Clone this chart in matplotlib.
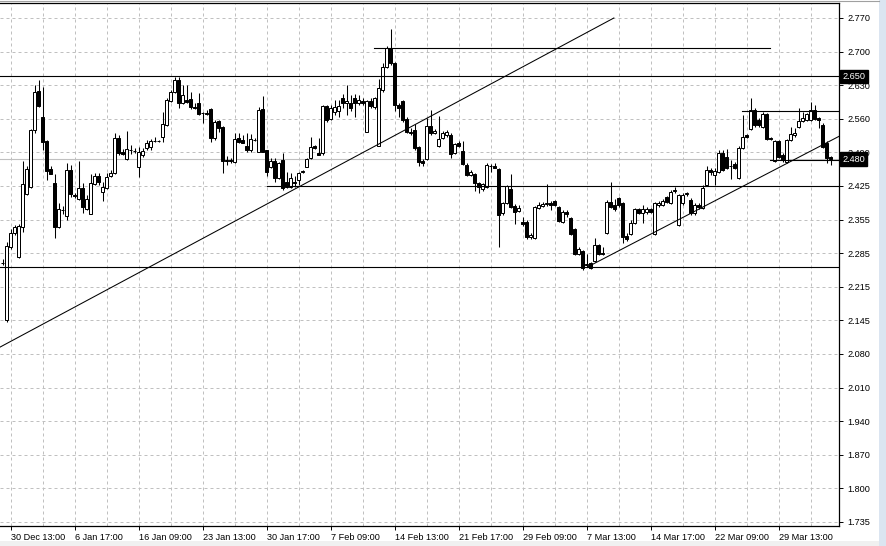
import matplotlib
matplotlib.use("Agg")
import matplotlib.pyplot as plt
from matplotlib.patches import Rectangle
from matplotlib.transforms import blended_transform_factory
import numpy as np

# OHLC of each bar (oldest first)
opens = [
    2.267, 2.150, 2.300, 2.328, 2.279, 2.341, 2.409, 2.423, 2.540, 2.620,
    2.567, 2.517, 2.460, 2.431, 2.341, 2.376, 2.363, 2.458, 2.406, 2.398,
    2.421, 2.378, 2.367, 2.429, 2.446, 2.413, 2.421, 2.446, 2.452, 2.524,
    2.495, 2.480, 2.499, 2.497, 2.464, 2.489, 2.503, 2.505, 2.517, 2.517,
    2.526, 2.550, 2.600, 2.618, 2.643, 2.595, 2.602, 2.604, 2.587, 2.595,
    2.575, 2.575, 2.583, 2.524, 2.558, 2.546, 2.478, 2.478, 2.474, 2.524,
    2.519, 2.507, 2.499, 2.519, 2.495, 2.583, 2.499, 2.464, 2.476, 2.441,
    2.478, 2.433, 2.423, 2.433, 2.437, 2.454, 2.464, 2.482, 2.507, 2.493,
    2.493, 2.589, 2.563, 2.577, 2.579, 2.606, 2.595, 2.595, 2.606, 2.595,
    2.600, 2.536, 2.600, 2.587, 2.507, 2.622, 2.669, 2.708, 2.678, 2.591,
    2.600, 2.563, 2.534, 2.540, 2.505, 2.476, 2.480, 2.548, 2.534, 2.507,
    2.524, 2.530, 2.530, 2.493, 2.513, 2.497, 2.468, 2.448, 2.450, 2.431,
    2.419, 2.423, 2.466, 2.466, 2.460, 2.370, 2.390, 2.419, 2.384, 2.374,
    2.351, 2.351, 2.320, 2.318, 2.380, 2.384, 2.388, 2.390, 2.394, 2.382,
    2.351, 2.372, 2.359, 2.337, 2.285, 2.291, 2.263, 2.267, 2.271, 2.304,
    2.287, 2.328, 2.392, 2.386, 2.400, 2.390, 2.322, 2.326, 2.349, 2.378,
    2.370, 2.372, 2.378, 2.326, 2.386, 2.386, 2.402, 2.390, 2.415, 2.345,
    2.390, 2.409, 2.396, 2.370, 2.386, 2.380, 2.427, 2.458, 2.448, 2.454,
    2.493, 2.485, 2.466, 2.470, 2.441, 2.503, 2.530, 2.542, 2.581, 2.561,
    2.546, 2.573, 2.524, 2.476, 2.517, 2.489, 2.474, 2.519, 2.530, 2.546,
    2.558, 2.561, 2.561, 2.581, 2.565, 2.550, 2.513, 2.485,
]
highs = [
    2.275, 2.310, 2.337, 2.345, 2.347, 2.476, 2.466, 2.542, 2.632, 2.643,
    2.628, 2.519, 2.466, 2.450, 2.390, 2.384, 2.472, 2.468, 2.411, 2.476,
    2.431, 2.406, 2.450, 2.452, 2.452, 2.433, 2.452, 2.458, 2.534, 2.530,
    2.501, 2.538, 2.509, 2.503, 2.505, 2.503, 2.519, 2.522, 2.526, 2.519,
    2.577, 2.606, 2.622, 2.649, 2.649, 2.632, 2.632, 2.618, 2.595, 2.616,
    2.577, 2.581, 2.585, 2.561, 2.561, 2.548, 2.487, 2.482, 2.534, 2.534,
    2.530, 2.534, 2.532, 2.524, 2.587, 2.610, 2.499, 2.482, 2.482, 2.474,
    2.493, 2.454, 2.452, 2.446, 2.454, 2.458, 2.482, 2.526, 2.509, 2.524,
    2.591, 2.591, 2.591, 2.602, 2.602, 2.614, 2.632, 2.612, 2.614, 2.612,
    2.606, 2.602, 2.606, 2.608, 2.645, 2.678, 2.713, 2.747, 2.680, 2.595,
    2.602, 2.567, 2.544, 2.552, 2.507, 2.480, 2.565, 2.581, 2.542, 2.569,
    2.538, 2.540, 2.534, 2.513, 2.517, 2.517, 2.472, 2.458, 2.452, 2.433,
    2.431, 2.472, 2.470, 2.472, 2.462, 2.392, 2.427, 2.450, 2.388, 2.386,
    2.361, 2.355, 2.328, 2.384, 2.392, 2.392, 2.429, 2.394, 2.396, 2.384,
    2.376, 2.376, 2.361, 2.339, 2.300, 2.294, 2.285, 2.269, 2.318, 2.306,
    2.300, 2.396, 2.433, 2.398, 2.402, 2.392, 2.328, 2.355, 2.380, 2.380,
    2.386, 2.382, 2.380, 2.392, 2.394, 2.398, 2.404, 2.417, 2.423, 2.409,
    2.411, 2.413, 2.400, 2.390, 2.390, 2.427, 2.466, 2.462, 2.462, 2.499,
    2.499, 2.501, 2.478, 2.474, 2.507, 2.571, 2.532, 2.606, 2.585, 2.565,
    2.577, 2.575, 2.526, 2.519, 2.519, 2.493, 2.522, 2.546, 2.544, 2.585,
    2.577, 2.575, 2.597, 2.591, 2.567, 2.554, 2.517, 2.487,
]
lows = [
    2.263, 2.146, 2.296, 2.324, 2.277, 2.330, 2.406, 2.421, 2.534, 2.587,
    2.499, 2.437, 2.450, 2.318, 2.339, 2.367, 2.355, 2.402, 2.400, 2.396,
    2.370, 2.376, 2.367, 2.427, 2.427, 2.394, 2.419, 2.443, 2.450, 2.489,
    2.489, 2.478, 2.491, 2.493, 2.443, 2.485, 2.499, 2.499, 2.515, 2.515,
    2.515, 2.548, 2.597, 2.616, 2.585, 2.593, 2.595, 2.583, 2.583, 2.571,
    2.554, 2.571, 2.515, 2.519, 2.536, 2.452, 2.468, 2.472, 2.472, 2.513,
    2.513, 2.495, 2.495, 2.517, 2.495, 2.495, 2.446, 2.462, 2.433, 2.439,
    2.417, 2.421, 2.421, 2.423, 2.427, 2.452, 2.464, 2.480, 2.501, 2.489,
    2.489, 2.556, 2.561, 2.571, 2.567, 2.585, 2.571, 2.579, 2.567, 2.591,
    2.591, 2.536, 2.585, 2.583, 2.507, 2.618, 2.667, 2.673, 2.579, 2.567,
    2.556, 2.534, 2.530, 2.499, 2.466, 2.466, 2.478, 2.530, 2.532, 2.505,
    2.522, 2.526, 2.482, 2.491, 2.505, 2.468, 2.446, 2.446, 2.415, 2.411,
    2.415, 2.421, 2.454, 2.462, 2.300, 2.365, 2.388, 2.380, 2.347, 2.372,
    2.343, 2.316, 2.316, 2.316, 2.378, 2.382, 2.384, 2.376, 2.384, 2.351,
    2.349, 2.361, 2.324, 2.283, 2.283, 2.252, 2.259, 2.254, 2.269, 2.283,
    2.283, 2.326, 2.380, 2.374, 2.382, 2.308, 2.312, 2.324, 2.347, 2.367,
    2.349, 2.367, 2.370, 2.324, 2.382, 2.384, 2.390, 2.388, 2.411, 2.343,
    2.386, 2.404, 2.365, 2.365, 2.378, 2.378, 2.425, 2.448, 2.427, 2.452,
    2.456, 2.460, 2.439, 2.460, 2.439, 2.501, 2.524, 2.540, 2.546, 2.546,
    2.544, 2.519, 2.519, 2.474, 2.482, 2.474, 2.472, 2.517, 2.526, 2.544,
    2.556, 2.558, 2.558, 2.561, 2.544, 2.503, 2.472, 2.468,
]
closes = [
    2.266, 2.302, 2.328, 2.341, 2.343, 2.429, 2.460, 2.540, 2.618, 2.589,
    2.515, 2.456, 2.450, 2.341, 2.378, 2.375, 2.458, 2.409, 2.404, 2.421,
    2.382, 2.398, 2.431, 2.446, 2.433, 2.423, 2.443, 2.452, 2.524, 2.493,
    2.491, 2.501, 2.498, 2.496, 2.495, 2.497, 2.513, 2.517, 2.518, 2.518,
    2.552, 2.602, 2.618, 2.643, 2.595, 2.612, 2.597, 2.587, 2.585, 2.573,
    2.574, 2.573, 2.524, 2.556, 2.544, 2.476, 2.477, 2.477, 2.522, 2.515,
    2.514, 2.499, 2.522, 2.520, 2.581, 2.495, 2.454, 2.476, 2.441, 2.472,
    2.421, 2.423, 2.441, 2.431, 2.452, 2.455, 2.480, 2.505, 2.503, 2.489,
    2.589, 2.561, 2.585, 2.587, 2.589, 2.595, 2.600, 2.585, 2.595, 2.602,
    2.595, 2.600, 2.589, 2.606, 2.626, 2.669, 2.708, 2.678, 2.591, 2.585,
    2.561, 2.536, 2.535, 2.503, 2.474, 2.472, 2.548, 2.534, 2.538, 2.522,
    2.534, 2.536, 2.491, 2.511, 2.507, 2.470, 2.448, 2.454, 2.431, 2.423,
    2.429, 2.468, 2.467, 2.462, 2.365, 2.390, 2.425, 2.382, 2.372, 2.380,
    2.347, 2.320, 2.324, 2.382, 2.386, 2.388, 2.389, 2.386, 2.386, 2.353,
    2.372, 2.367, 2.326, 2.285, 2.296, 2.257, 2.264, 2.257, 2.304, 2.285,
    2.285, 2.392, 2.382, 2.378, 2.386, 2.320, 2.316, 2.349, 2.378, 2.370,
    2.378, 2.378, 2.372, 2.390, 2.390, 2.394, 2.392, 2.413, 2.416, 2.406,
    2.406, 2.410, 2.370, 2.386, 2.382, 2.421, 2.458, 2.454, 2.456, 2.493,
    2.458, 2.462, 2.467, 2.462, 2.503, 2.526, 2.526, 2.581, 2.550, 2.550,
    2.573, 2.522, 2.522, 2.517, 2.485, 2.478, 2.519, 2.532, 2.534, 2.558,
    2.565, 2.573, 2.581, 2.563, 2.561, 2.505, 2.482, 2.480,
]

# time axis labels (every 16 bars, starting at bar 2)
time_labels = ["30 Dec 13:00", "6 Jan 17:00", "16 Jan 09:00", "23 Jan 13:00",
               "30 Jan 17:00", "7 Feb 09:00", "14 Feb 13:00", "21 Feb 17:00",
               "29 Feb 09:00", "7 Mar 13:00", "14 Mar 17:00", "22 Mar 09:00",
               "29 Mar 13:00"]
time_label_bars = [2, 18, 34, 50, 66, 82, 98, 114, 130, 146, 162, 178, 194]

# price scale
price_ticks = [2.770, 2.701, 2.632, 2.563, 2.494, 2.425, 2.356, 2.287, 2.218,
               2.149, 2.080, 2.011, 1.942, 1.873, 1.804, 1.735]
price_labels = ["2.770", "2.700", "2.630", "2.560", "2.490", "2.425", "2.355",
                "2.285", "2.215", "2.145", "2.080", "2.010", "1.940", "1.870",
                "1.800", "1.735"]

# drawn objects: horizontal levels (price, first bar, last bar) and trend lines
levels = [(2.708, 92.8, 191.8), (2.650, -1, 210), (2.580, 184.8, 210),
          (2.479, 191.8, 210), (2.425, 66.0, 210), (2.259, -1, 210)]
trend_up_bars = [-0.67, 152.8]
trend_up_prices = [2.094, 2.770]
trend_low_bars = [146.3, 209.1]
trend_low_prices = [2.259, 2.527]
bid = 2.480
marked_prices = [2.650, 2.480]

W, H = 887, 546
fig = plt.figure(figsize=(W / 100, H / 100), dpi=100)
fig.patch.set_facecolor("white")
ax = fig.add_axes([0, 1 - 526 / H, 839 / W, 523 / H])
ax.set_xlim(-0.667, 209.08)
ax.set_ylim(1.7266, 2.8008)
ax.set_axisbelow(True)

font = "Liberation Sans"
fs = 6.6

# grid
grid_bars = np.arange(2, 209, 8)
ax.set_xticks(grid_bars, minor=True)
ax.set_xticks(time_label_bars)
ax.set_xticklabels(time_labels, fontsize=fs, family=font, ha="left")
ax.set_yticks(price_ticks)
ax.set_yticklabels(price_labels, fontsize=fs, family=font)
ax.yaxis.tick_right()
ax.tick_params(axis="x", which="major", length=3, width=0.7, pad=2)
ax.tick_params(axis="x", which="minor", length=0)
ax.tick_params(axis="y", length=3, width=0.7, pad=3)
ax.grid(True, which="both", axis="x", color="#c0c0c0", lw=0.72, ls=(0, (3, 3)))
ax.grid(True, which="major", axis="y", color="#c0c0c0", lw=0.72, ls=(0, (3, 3)))

ax.spines["left"].set_visible(False)
for s in ["top", "right", "bottom"]:
    ax.spines[s].set_linewidth(0.9)

# bid line
ax.axhline(bid, color="#c0c0c0", lw=0.8, zorder=1)

# candles
idx = np.arange(len(opens))
o = np.array(opens)
c = np.array(closes)
ax.vlines(idx, lows, highs, color="black", lw=0.75, zorder=2)
up = c >= o
ax.bar(idx[up], (c - o)[up], bottom=o[up], width=0.6, color="white",
       edgecolor="black", lw=0.72, zorder=3)
ax.bar(idx[~up], (o - c)[~up], bottom=c[~up], width=0.6, color="black",
       edgecolor="black", lw=0.72, zorder=3)

# drawn objects
for p, b0, b1 in levels:
    ax.plot([b0, b1], [p, p], color="black", lw=0.8, zorder=4)
ax.plot(trend_up_bars, trend_up_prices, color="black", lw=0.75, zorder=4)
ax.plot(trend_low_bars, trend_low_prices, color="black", lw=0.75, zorder=4)

# black price markers on the scale (they cover the tick label beneath, as in MT4)
tr = blended_transform_factory(ax.transAxes, ax.transData)
for p in marked_prices:
    ax.text(1.004, p, f"{p:.3f}", transform=tr, fontsize=fs, family=font,
            color="white", va="center", ha="left", zorder=6, clip_on=False,
            bbox=dict(boxstyle="square,pad=0.25", fc="black", ec="black"))

# window frame bits
fig.add_artist(Rectangle((879 / W, 0), 8 / W, 1, transform=fig.transFigure,
                         fc="#dbe5f1", ec="none"))
fig.add_artist(Rectangle((0, 0), 879 / W, 5 / H, transform=fig.transFigure,
                         fc="#f0f0f0", ec="none"))
fig.add_artist(plt.Line2D([0, 879 / W], [1 - 0.7 / H, 1 - 0.7 / H],
                          transform=fig.transFigure, color="#a0a0a0", lw=0.8))

fig.savefig("out.png", dpi=100)
